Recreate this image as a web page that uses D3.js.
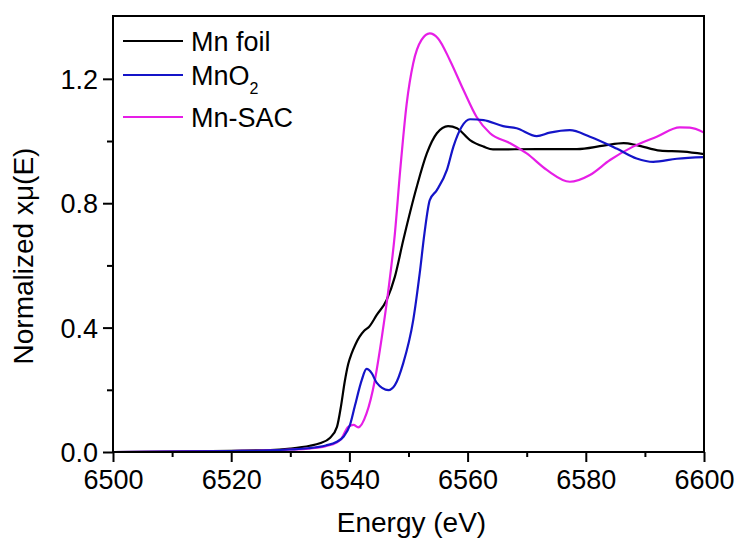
<!DOCTYPE html>
<html>
<head>
<meta charset="utf-8">
<script src="https://cdn.jsdelivr.net/npm/d3@7"></script>
<style>
  html, body { margin: 0; padding: 0; background: #fff; }
  svg { display: block; font-family: "Liberation Sans", Arial, sans-serif; }
</style>
</head>
<body>
<svg id="chart" width="740" height="543"></svg>
<script>
// Mn K-edge XANES spectra (normalized absorption vs photon energy)
const foilE  = [6500, 6510, 6520, 6526.6, 6530, 6533.3, 6535, 6536.7, 6537.9, 6538.6, 6539.2, 6539.8, 6540.4, 6541.0, 6541.7, 6542.5, 6543.3, 6544.6, 6546.3, 6547.7, 6549.1, 6551.4, 6553.1, 6554.8, 6556.7, 6558.2, 6560.4, 6562.7, 6564.3, 6571.7, 6578.5, 6583, 6586.4, 6588.6, 6592.6, 6596.5, 6600];
const foilMu = [0.000, 0.001, 0.004, 0.006, 0.011, 0.020, 0.028, 0.045, 0.081, 0.150, 0.225, 0.283, 0.318, 0.345, 0.370, 0.390, 0.402, 0.440, 0.489, 0.564, 0.680, 0.853, 0.960, 1.025, 1.048, 1.041, 1.003, 0.982, 0.973, 0.974, 0.974, 0.985, 0.993, 0.987, 0.969, 0.966, 0.958];

const oxideE  = [6500, 6510, 6520, 6526.6, 6530, 6533, 6536, 6537.8, 6539.0, 6540.1, 6540.9, 6542.1, 6542.9, 6543.8, 6544.6, 6546.6, 6547.7, 6549.1, 6550.8, 6551.9, 6552.7, 6553.6, 6554.8, 6556.5, 6557.6, 6559.0, 6560.4, 6562.7, 6566.0, 6568.3, 6571.7, 6573.9, 6577.3, 6580.7, 6585.2, 6588.6, 6591.4, 6595.4, 6600];
const oxideMu = [0.000, 0.001, 0.003, 0.005, 0.008, 0.012, 0.021, 0.032, 0.049, 0.087, 0.146, 0.232, 0.267, 0.253, 0.223, 0.199, 0.215, 0.285, 0.424, 0.575, 0.703, 0.810, 0.842, 0.907, 0.982, 1.046, 1.070, 1.067, 1.048, 1.041, 1.016, 1.027, 1.035, 1.014, 0.976, 0.944, 0.933, 0.943, 0.948];

const sacE  = [6500, 6510, 6520, 6526.6, 6530, 6533, 6536, 6537.8, 6538.6, 6539.8, 6540.7, 6541.5, 6542.9, 6544.3, 6545.5, 6546.6, 6547.7, 6548.6, 6549.7, 6550.8, 6552.2, 6553.6, 6555.0, 6557.0, 6559.3, 6561.5, 6563.8, 6567.2, 6570.0, 6573.4, 6577.3, 6580.7, 6584.1, 6588.0, 6592.0, 6595.9, 6597.6, 6600];
const sacMu = [0.000, 0.001, 0.003, 0.005, 0.008, 0.011, 0.019, 0.030, 0.042, 0.081, 0.087, 0.079, 0.124, 0.230, 0.371, 0.521, 0.703, 0.907, 1.121, 1.250, 1.325, 1.346, 1.330, 1.260, 1.164, 1.078, 1.025, 0.993, 0.960, 0.907, 0.869, 0.891, 0.939, 0.982, 1.014, 1.044, 1.043, 1.027];

const seriesNames  = ["Mn foil", "MnO2", "Mn-SAC"];
const seriesColors = ["#000000", "#1414c8", "#e61ee6"];

const xTicks = [6500, 6520, 6540, 6560, 6580, 6600];
const xMinorTicks = [6510, 6530, 6550, 6570, 6590];
const yTicks = [0.0, 0.4, 0.8, 1.2];
const yMinorTicks = [0.2, 0.6, 1.0];

const series = [
  { name: seriesNames[0], color: seriesColors[0], pts: foilE.map((e, i) => [e, foilMu[i]]) },
  { name: seriesNames[1], color: seriesColors[1], pts: oxideE.map((e, i) => [e, oxideMu[i]]) },
  { name: seriesNames[2], color: seriesColors[2], pts: sacE.map((e, i) => [e, sacMu[i]]) }
];

const W = 740, H = 543;
const m = { left: 113, right: 36, top: 16, bottom: 91 };
const iw = W - m.left - m.right, ih = H - m.top - m.bottom;

const svg = d3.select("#chart");
const g = svg.append("g").attr("transform", `translate(${m.left},${m.top})`);

const x = d3.scaleLinear().domain([6500, 6600]).range([0, iw]);
const y = d3.scaleLinear().domain([0, 1.402]).range([ih, 0]);

svg.append("defs").append("clipPath").attr("id", "plot-clip")
  .append("rect").attr("width", iw).attr("height", ih);

// curves
const line = d3.line().x(d => x(d[0])).y(d => y(d[1])).curve(d3.curveMonotoneX);
const curves = g.append("g").attr("clip-path", "url(#plot-clip)");
// draw order: black, magenta, then blue
[0, 2, 1].forEach(i => {
  curves.append("path")
    .datum(series[i].pts)
    .attr("fill", "none")
    .attr("stroke", series[i].color)
    .attr("stroke-width", 2.2)
    .attr("stroke-linejoin", "round")
    .attr("d", line);
});

// frame
g.append("rect").attr("width", iw).attr("height", ih)
  .attr("fill", "none").attr("stroke", "#000").attr("stroke-width", 2);

// x axis
g.append("g").attr("transform", `translate(0,${ih})`)
  .call(d3.axisBottom(x).tickValues(xTicks).tickSize(10).tickPadding(8).tickFormat(d3.format("d")));
g.append("g").attr("transform", `translate(0,${ih})`)
  .call(d3.axisBottom(x).tickValues(xMinorTicks).tickSize(5).tickFormat(""));

// y axis
const yAxis = g.append("g")
  .call(d3.axisLeft(y).tickValues(yTicks).tickSize(10).tickPadding(5).tickFormat(d3.format(".1f")));
g.append("g")
  .call(d3.axisLeft(y).tickValues(yMinorTicks).tickSize(6).tickFormat(""));

g.selectAll(".domain").remove();
g.selectAll(".tick line").attr("stroke", "#000").attr("stroke-width", 2);
g.selectAll(".tick text")
  .attr("fill", "#000")
  .style("font-size", "27px")
  .style("font-family", '"Liberation Sans", Arial, sans-serif');
yAxis.selectAll(".tick text").attr("dy", "0.36em");

// axis titles
svg.append("text")
  .attr("x", m.left + iw / 2 + 3).attr("y", 532)
  .attr("text-anchor", "middle")
  .style("font-size", "28px")
  .text("Energy (eV)");

svg.append("text")
  .attr("transform", "translate(33,256) rotate(-90)")
  .attr("text-anchor", "middle")
  .style("font-size", "28px")
  .text("Normalized xμ(E)");

// legend
const legendY = [41, 75, 117];
const legend = svg.append("g");
series.forEach((s, i) => {
  legend.append("line")
    .attr("x1", 123).attr("x2", 183)
    .attr("y1", legendY[i]).attr("y2", legendY[i])
    .attr("stroke", s.color).attr("stroke-width", 2);
  const t = legend.append("text")
    .attr("x", 191).attr("y", legendY[i] + 10)
    .style("font-size", "27px");
  if (s.name === "MnO2") {
    t.append("tspan").text("MnO");
    t.append("tspan").attr("dy", 9).style("font-size", "16px").text("2");
  } else {
    t.text(s.name);
  }
});
</script>
</body>
</html>
